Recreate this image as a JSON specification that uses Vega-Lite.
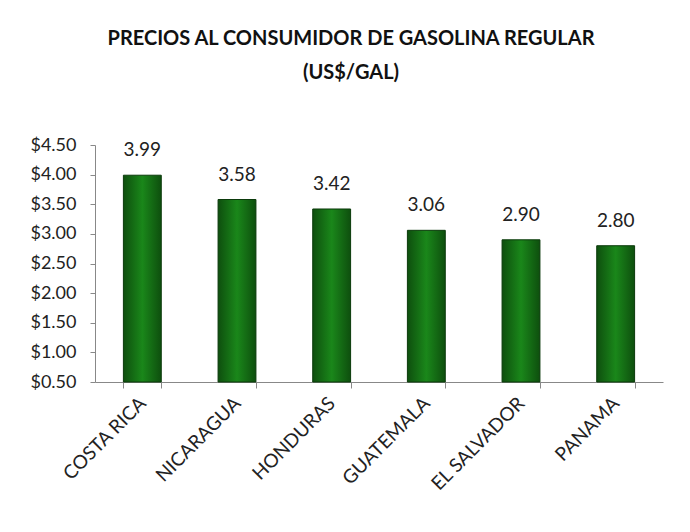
{
  "$schema": "https://vega.github.io/schema/vega-lite/v6.json",
  "width": 568,
  "height": 237,
  "autosize": "none",
  "padding": {"left": 95, "top": 145, "right": 27, "bottom": 150},
  "background": "white",
  "title": {
    "text": ["PRECIOS AL CONSUMIDOR DE GASOLINA REGULAR", "(US$/GAL)"],
    "font": "Lato",
    "fontSize": 20,
    "fontWeight": "bold",
    "color": "#111111",
    "lineHeight": 34,
    "anchor": "middle",
    "dx": -28,
    "offset": 53
  },
  "data": {
    "values": [
      {"pais": "COSTA RICA", "precio": 3.99},
      {"pais": "NICARAGUA", "precio": 3.58},
      {"pais": "HONDURAS", "precio": 3.42},
      {"pais": "GUATEMALA", "precio": 3.06},
      {"pais": "EL SALVADOR", "precio": 2.90},
      {"pais": "PANAMA", "precio": 2.80}
    ]
  },
  "encoding": {
    "x": {
      "field": "pais",
      "type": "nominal",
      "sort": null,
      "scale": {"paddingInner": 0.6, "paddingOuter": 0.3},
      "axis": {
        "title": null,
        "labelAngle": -45,
        "labelAlign": "right",
        "labelBaseline": "middle",
        "labelFont": "Lato",
        "labelFontSize": 19,
        "labelColor": "#222222",
        "labelPadding": 12,
        "domainColor": "#888888",
        "tickColor": "#888888",
        "tickBand": "extent",
        "tickSize": 6,
        "labelLimit": 300
      }
    },
    "y": {
      "field": "precio",
      "type": "quantitative",
      "scale": {"domain": [0.5, 4.5], "zero": false, "nice": false},
      "axis": {
        "title": null,
        "values": [0.5, 1, 1.5, 2, 2.5, 3, 3.5, 4, 4.5],
        "format": "$.2f",
        "grid": false,
        "labelFont": "Lato",
        "labelFontSize": 18,
        "labelColor": "#222222",
        "labelPadding": 14,
        "domainColor": "#888888",
        "tickColor": "#888888",
        "tickSize": 5
      }
    }
  },
  "layer": [
    {
      "mark": {
        "type": "bar",
        "stroke": "#0b3a0b",
        "strokeWidth": 1,
        "color": {
          "gradient": "linear",
          "x1": 0, "x2": 1, "y1": 0, "y2": 0,
          "stops": [
            {"offset": 0, "color": "#0e4f0e"},
            {"offset": 0.5, "color": "#1a871a"},
            {"offset": 1, "color": "#0e4f0e"}
          ]
        }
      },
      "encoding": {"y2": {"datum": 0.5}}
    },
    {
      "mark": {
        "type": "text",
        "baseline": "bottom",
        "dy": -15,
        "font": "Lato",
        "fontSize": 19,
        "color": "#222222"
      },
      "encoding": {
        "text": {"field": "precio", "type": "quantitative", "format": ".2f"}
      }
    }
  ],
  "config": {"view": {"stroke": null}}
}
